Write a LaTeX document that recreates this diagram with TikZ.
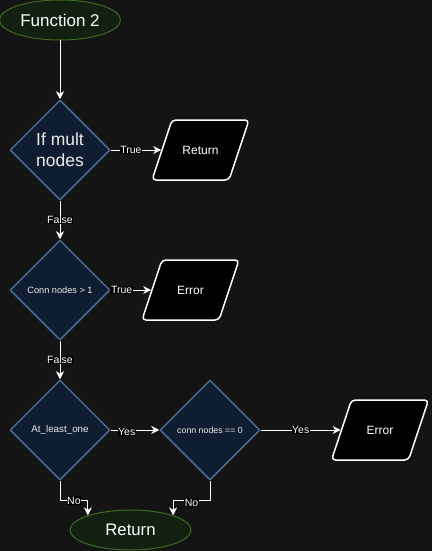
\documentclass[tikz,border=0pt]{standalone}
\usepackage{fontspec}
\setmainfont{Liberation Sans}
\usetikzlibrary{shapes.geometric}
\usetikzlibrary{arrows.meta}

\definecolor{bgdark}{HTML}{141414}
\definecolor{termfill}{HTML}{112011}
\definecolor{termline}{HTML}{3F6B22}
\definecolor{decfill}{HTML}{0F1D31}
\definecolor{decline}{HTML}{4B6B94}

\begin{document}
\begin{tikzpicture}[x=1pt, y=-1pt, line join=round,
  term/.style={ellipse, draw=termline, fill=termfill, text=white, line width=1pt,
    minimum width=121pt, minimum height=40pt, inner sep=0pt},
  decision/.style={diamond, aspect=1, draw=decline, fill=decfill, text=white!92!black,
    line width=1.5pt, minimum width=100pt, minimum height=100pt, inner sep=0pt, align=center},
  io/.style={trapezium, trapezium left angle=71.6, trapezium right angle=108.4,
    trapezium stretches body, draw=white, fill=black, text=white, line width=1.5pt,
    rounded corners=4pt, minimum width=97pt, inner xsep=0pt, inner ysep=0pt,
    text height=30pt, text depth=30pt, font=\fontsize{12}{14}\selectfont},
  flow/.style={draw=white, line width=1pt, -{Stealth[length=8pt, width=8pt, inset=2.5pt]}},
  tag/.style={fill=black, text=white, inner sep=0.6pt, font=\fontsize{10.5}{12}\selectfont}]
  \fill[bgdark] (0,0) rectangle (432,551);
  \useasboundingbox (0,0) rectangle (432,551);

  \node[term, font=\fontsize{17}{20}\selectfont] (start) at (60,20) {Function 2};
  \node[decision, font=\fontsize{17.5}{21}\selectfont] (mult) at (60,150) {If mult\\nodes};
  \node[io] (ret1) at (200.5,150) {\raisebox{-0.7ex}{Return}};
  \node[decision, font=\fontsize{9.2}{11}\selectfont] (conn) at (60,290) {Conn nodes > 1};
  \node[io] (err1) at (190.5,290) {\raisebox{-0.7ex}{Error}};
  \node[decision, font=\fontsize{9.8}{11}\selectfont] (least) at (60,430) {At\_least\_one};
  \node[decision, font=\fontsize{8.8}{11}\selectfont] (zero) at (210,430) {conn nodes == 0};
  \node[io] (err2) at (380,430) {\raisebox{-0.7ex}{Error}};
  \node[term, font=\fontsize{16.7}{20}\selectfont] (ret2) at (130.5,530) {Return};

  \draw[flow] (start) -- (mult);
  \draw[flow] (mult.east) -- node[tag, pos=0.4] {True} (ret1.west);
  \draw[flow] (mult.south) -- node[tag] {False} (conn.north);
  \draw[flow] (conn.east) -- node[tag, pos=0.27] {True} (err1.west);
  \draw[flow] (conn.south) -- node[tag] {False} (least.north);
  \draw[flow] (least.east) -- node[tag, pos=0.33, yshift=-2pt] {Yes} (zero.west);
  \draw[flow] (zero.east) -- node[tag] {Yes} (err2.west);
  \draw[flow] (least.south) -- ++(0,20) -| node[tag, pos=0.25] {No} (ret2.161.5);
  \draw[flow] (zero.south) -- ++(0,20) -| node[tag, pos=0.25, yshift=-2pt] {No} (ret2.19.4);
\end{tikzpicture}
\end{document}
